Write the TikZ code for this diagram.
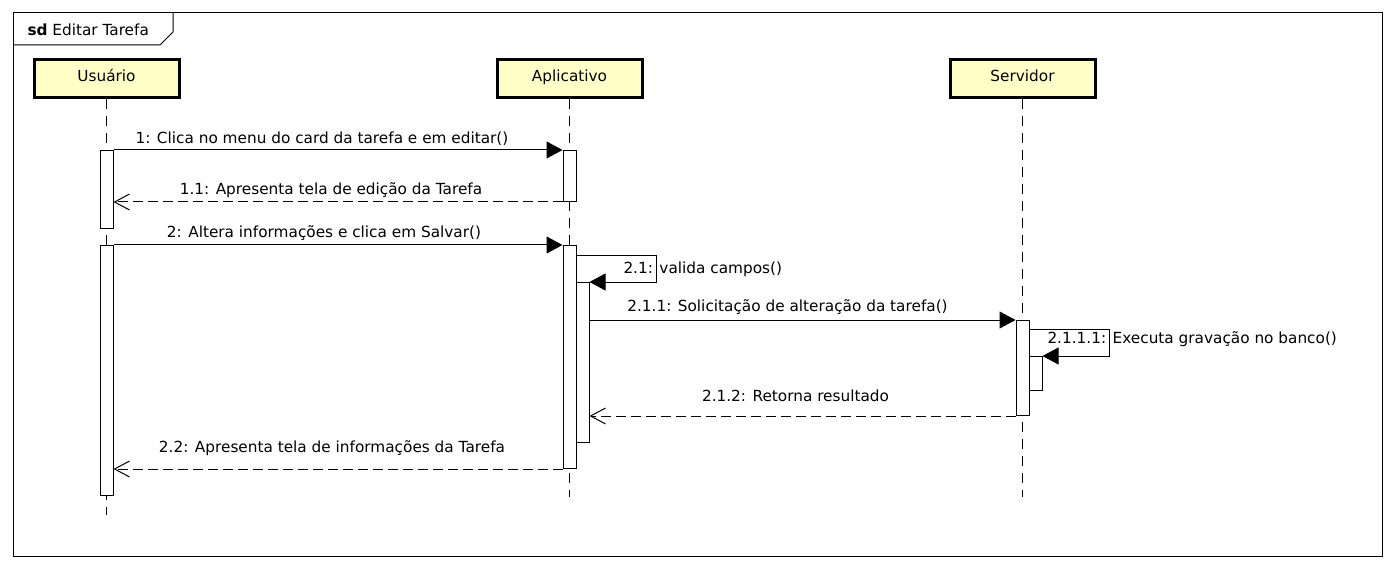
\documentclass[tikz,border=0pt]{standalone}
\usepackage{fontspec}
\setmainfont{DejaVu Sans}
\usetikzlibrary{arrows.meta,positioning}
\definecolor{headfill}{RGB}{255,255,200}

\begin{document}
\begin{tikzpicture}[x=1pt,y=-1pt,on grid,line width=1pt,
  font=\fontsize{15.3}{18}\selectfont,
  head/.style={draw,line width=3pt,fill=headfill,minimum width=145pt,minimum height=38pt,inner sep=0pt,text height=11pt,text depth=5pt},
  lifeline/.style={dash pattern=on 10pt off 7pt},
  act/.style={draw,fill=white,minimum width=13pt,inner sep=0pt,anchor=north},
  call/.style={-{Triangle[length=16pt,width=17pt]}},
  reply/.style={dash pattern=on 10pt off 5pt,-{Straight Barb[length=15pt,width=16pt]}},
  lbl/.style={inner sep=0pt,above=4pt}]
\useasboundingbox (0,0) rectangle (1396,569);

% frame
\draw (13,13) rectangle (1382,556);
\draw (13,45) -- (160,45) -- (173,32) -- (173,13);
\node[anchor=west,inner sep=0pt] (title) at (27,30) {\textbf{sd} Editar Tarefa};

% lifelines
\node[head] (usr) at (106.5,78.5) {Usuário};
\node[head] (app) [right=463pt of usr] {Aplicativo};
\node[head] (srv) [right=453pt of app] {Servidor};
\coordinate (usr_end) at (106.5,515);
\coordinate (app_end) at (569.5,497);
\coordinate (srv_end) at (1022.5,497);
\draw[lifeline] (usr) -- (usr_end);
\draw[lifeline] (app) -- (app_end);
\draw[lifeline] (srv) -- (srv_end);

% activations
\node[act,minimum height=78pt]  (a_u1) at (106.5,150) {};
\node[act,minimum height=250pt] (a_u2) at (106.5,245) {};
\node[act,minimum height=51pt]  (a_a1) at (569.5,150) {};
\node[act,minimum height=223pt] (a_a2) at (569.5,245) {};
\node[act,minimum height=160pt] (a_a3) at (582.5,282) {};
\node[act,minimum height=95pt]  (a_s1) at (1022.5,320) {};
\node[act,minimum height=34pt]  (a_s2) at (1035.5,356) {};

% messages
\path[call] (a_u1.north east) edge node[lbl,xshift=-16pt] {1: Clica no menu do card da tarefa e em editar()} (a_a1.north west);
\path[reply] (a_a1.south west) edge node[lbl,xshift=-7pt] {1.1: Apresenta tela de edição da Tarefa} (a_u1.east |- a_a1.south);
\path[call] (a_u2.north east) edge node[lbl,xshift=-14pt] {2: Altera informações e clica em Salvar()} (a_a2.north west);

\coordinate (loop_a) at (656,255);
\draw[call] (a_a2.east |- loop_a) -- (loop_a) |- (a_a3.north east);
\node[anchor=west,inner sep=0pt] (l_21) at (623,269) {2.1: valida campos()};

\path[call] (a_a3.east |- a_s1.north) edge node[lbl,xshift=-15pt,above=5pt] {2.1.1: Solicitação de alteração da tarefa()} (a_s1.north west);

\coordinate (loop_s) at (1109,329);
\draw[call] (a_s1.east |- loop_s) -- (loop_s) |- (a_s2.north east);
\node[anchor=west,inner sep=0pt] (l_2111) at (1047,339) {2.1.1.1: Executa gravação no banco()};

\path[reply] (a_s1.south west) edge node[lbl,xshift=-7pt,above=14pt] {2.1.2: Retorna resultado} (a_a3.east |- a_s1.south);
\path[reply] (a_a2.south west) edge node[lbl,xshift=-6pt,above=13pt] {2.2: Apresenta tela de informações da Tarefa} (a_u2.east |- a_a2.south);
\end{tikzpicture}
\end{document}
